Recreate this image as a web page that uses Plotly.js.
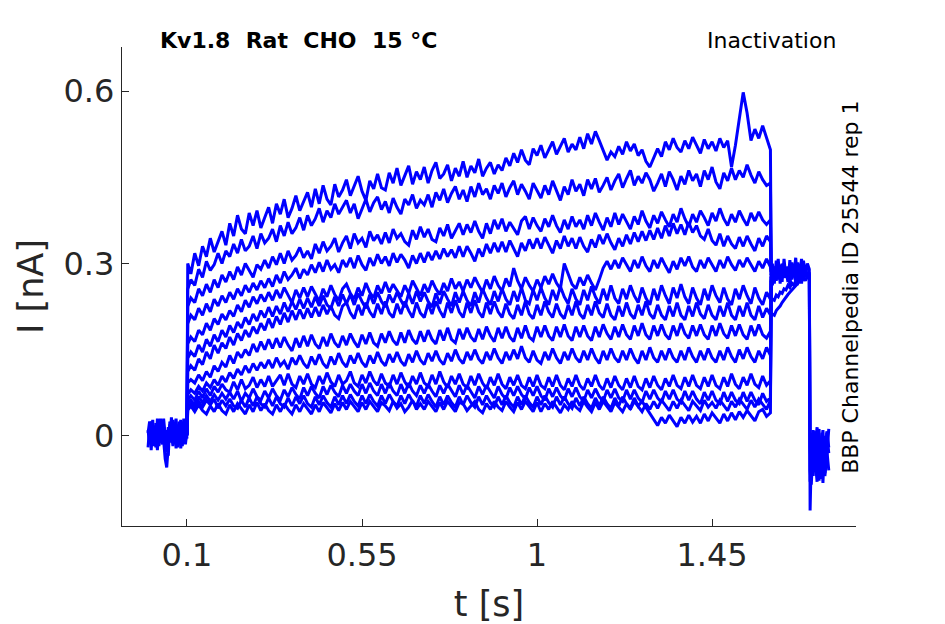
<!DOCTYPE html>
<html>
<head>
<meta charset="utf-8">
<script src="https://cdn.plot.ly/plotly-3.0.1.min.js"></script>
<style>
  body { margin: 0; background: #fff; }
  #chart { width: 945px; height: 624px; }
</style>
</head>
<body>
<div id="chart"></div>
<script>
// current values in thousandths of nA (pA)

// holding period before the step
var tPre = [0, 0.004, 0.008, 0.012, 0.016, 0.02, 0.024, 0.028, 0.032, 0.036, 0.04, 0.044, 0.048,
  0.052, 0.056, 0.06, 0.064, 0.068, 0.072, 0.076, 0.08, 0.084, 0.088, 0.092, 0.096, 0.1];
var preA = [10, -15, 25, -5, 18, -20, 30, 0, -12, 22, -8, -40, -55, -10, 20, -5, 28, -15, 12, -20, 25, 5, -18, 20, -10, 15];
var preB = [-20, 15, -8, 28, -18, 10, -25, 20, 5, -15, 30, -5, -28, 15, -12, 32, -8, 20, -22, 10, -5, 28, -15, 8, 24, -5];
var preC = [5, 25, -25, 12, -10, 22, 8, -18, 30, -8, 15, -22, 10, -35, 25, 5, -18, 12, 30, -10, 18, -22, 10, 30, -15, 8];

// the test pulse
var tMain = [0.1, 0.102,
  0.11, 0.12, 0.13, 0.14, 0.15, 0.16, 0.17, 0.18, 0.19, 0.2,
  0.21, 0.22, 0.23, 0.24, 0.25, 0.26, 0.27, 0.28, 0.29, 0.3,
  0.31, 0.32, 0.33, 0.34, 0.35, 0.36, 0.37, 0.38, 0.39, 0.4,
  0.41, 0.42, 0.43, 0.44, 0.45, 0.46, 0.47, 0.48, 0.49, 0.5,
  0.51, 0.52, 0.53, 0.54, 0.55, 0.56, 0.57, 0.58, 0.59, 0.6,
  0.61, 0.62, 0.63, 0.64, 0.65, 0.66, 0.67, 0.68, 0.69, 0.7,
  0.71, 0.72, 0.73, 0.74, 0.75, 0.76, 0.77, 0.78, 0.79, 0.8,
  0.81, 0.82, 0.83, 0.84, 0.85, 0.86, 0.87, 0.88, 0.89, 0.9,
  0.91, 0.92, 0.93, 0.94, 0.95, 0.96, 0.97, 0.98, 0.99, 1.0,
  1.01, 1.02, 1.03, 1.04, 1.05, 1.06, 1.07, 1.08, 1.09, 1.1,
  1.11, 1.12, 1.13, 1.14, 1.15, 1.16, 1.17, 1.18, 1.19, 1.2,
  1.21, 1.22, 1.23, 1.24, 1.25, 1.26, 1.27, 1.28, 1.29, 1.3,
  1.31, 1.32, 1.33, 1.34, 1.35, 1.36, 1.37, 1.38, 1.39, 1.4,
  1.41, 1.42, 1.43, 1.44, 1.45, 1.46, 1.47, 1.48, 1.49, 1.5,
  1.51, 1.52, 1.53, 1.54, 1.55, 1.56, 1.57, 1.58, 1.59, 1.6,
  1.602];

var sweep1 = [20, 300,
  282, 318, 296, 330, 312, 344, 320, 338, 356, 332,
  370, 348, 384, 360, 352, 388, 366, 392, 362, 380,
  398, 370, 404, 386, 412, 380, 396, 418, 392, 408,
  424, 398, 430, 404, 436, 412, 402, 438, 416, 428,
  446, 418, 436, 452, 426, 410, 444, 430, 456, 432,
  428, 458, 440, 466, 436, 452, 470, 438, 460, 446,
  468, 440, 462, 476, 448, 456, 472, 444, 466, 452,
  478, 450, 470, 458, 482, 452, 466, 476, 456, 472,
  462, 484, 470, 492, 476, 498, 480, 472, 500, 488,
  506, 484, 498, 512, 490, 504, 518, 494, 508, 498,
  520, 500, 526, 508, 530, 514, 496, 480, 494, 486,
  504, 490, 512, 496, 508, 488, 498, 478, 468, 484,
  500, 486, 512, 498, 518, 502, 494, 514, 500, 520,
  506, 492, 516, 500, 512, 496, 518, 502, 514, 468,
  506, 550, 598, 562, 514, 534, 518, 540, 520, 498,
  285];
var sweep2 = [15, 255,
  272, 262, 290, 276, 304, 288, 298, 318, 300, 322,
  312, 334, 318, 342, 322, 330, 348, 326, 352, 336,
  344, 360, 338, 366, 348, 372, 352, 362, 380, 358,
  384, 366, 378, 396, 372, 392, 380, 404, 386, 398,
  410, 388, 404, 378, 396, 412, 390, 406, 416, 394,
  408, 388, 414, 398, 386, 412, 402, 420, 396, 410,
  402, 420, 398, 424, 410, 430, 406, 422, 434, 412,
  428, 408, 434, 416, 440, 420, 430, 412, 436, 422,
  440, 416, 432, 444, 420, 438, 426, 412, 440, 428,
  414, 436, 420, 444, 428, 410, 434, 420, 446, 426,
  438, 418, 446, 430, 448, 424, 436, 450, 428, 444,
  456, 432, 448, 462, 436, 452, 440, 458, 446, 426,
  440, 456, 434, 460, 446, 428, 452, 438, 462, 444,
  456, 434, 462, 446, 468, 442, 430, 458, 444, 466,
  446, 462, 450, 472, 454, 440, 460, 446, 436, 440,
  295];
var sweep3 = [10, 225,
  240, 232, 256, 244, 264, 250, 272, 258, 280, 268,
  286, 272, 294, 280, 300, 288, 276, 298, 290, 306,
  292, 312, 298, 318, 300, 322, 306, 314, 328, 310,
  322, 308, 334, 318, 338, 322, 330, 344, 320, 336,
  348, 326, 352, 336, 344, 328, 356, 340, 350, 334,
  354, 336, 360, 344, 352, 338, 332, 358, 342, 364,
  346, 360, 342, 338, 362, 348, 368, 344, 356, 370,
  350, 368, 354, 374, 356, 344, 370, 352, 376, 360,
  378, 356, 372, 362, 350, 374, 382, 360, 380, 366,
  356, 378, 364, 384, 366, 354, 376, 360, 382, 364,
  376, 360, 384, 366, 388, 372, 358, 380, 364, 388,
  368, 386, 374, 360, 382, 368, 392, 374, 362, 384,
  370, 390, 376, 364, 386, 372, 396, 378, 364, 386,
  372, 392, 380, 366, 388, 374, 396, 378, 366, 386,
  372, 392, 378, 366, 388, 374, 390, 376, 368, 376,
  280];
var sweep4 = [8, 195,
  210, 202, 222, 210, 230, 216, 238, 226, 244, 232,
  250, 238, 256, 244, 262, 250, 266, 254, 270, 258,
  274, 260, 280, 266, 286, 272, 280, 292, 274, 290,
  280, 298, 284, 302, 286, 306, 290, 298, 284, 306,
  294, 310, 292, 314, 298, 288, 310, 296, 316, 300,
  312, 296, 318, 302, 316, 306, 292, 314, 300, 318,
  302, 320, 306, 322, 308, 326, 312, 324, 310, 330,
  312, 330, 318, 304, 326, 312, 334, 318, 336, 320,
  338, 320, 340, 326, 312, 336, 322, 342, 326, 344,
  326, 346, 332, 318, 340, 326, 348, 330, 344, 326,
  346, 330, 320, 342, 328, 350, 334, 352, 336, 324,
  344, 330, 350, 334, 354, 338, 356, 340, 358, 342,
  362, 344, 366, 348, 370, 352, 368, 350, 372, 354,
  366, 348, 342, 360, 340, 332, 352, 330, 348, 334,
  326, 346, 330, 348, 334, 322, 344, 330, 348, 338,
  275];
var sweep5 = [5, 160,
  172, 164, 184, 176, 196, 184, 204, 194, 212, 202,
  218, 208, 228, 216, 236, 224, 242, 230, 246, 234,
  250, 236, 254, 240, 258, 246, 232, 254, 240, 258,
  242, 260, 246, 234, 256, 242, 262, 246, 236, 256,
  264, 248, 238, 258, 244, 266, 250, 240, 262, 248,
  268, 250, 264, 254, 242, 262, 248, 270, 256, 244,
  264, 250, 270, 256, 246, 266, 252, 274, 256, 268,
  252, 272, 258, 276, 262, 250, 272, 256, 278, 262,
  252, 274, 260, 292, 270, 256, 276, 262, 252, 272,
  258, 278, 264, 282, 266, 256, 300, 280, 264, 256,
  276, 262, 280, 266, 254, 272, 292, 304, 290, 306,
  292, 310, 298, 286, 306, 292, 312, 296, 286, 306,
  292, 310, 296, 284, 304, 290, 310, 296, 312, 294,
  286, 306, 292, 310, 298, 286, 306, 292, 312, 298,
  288, 306, 294, 310, 298, 286, 304, 292, 308, 294,
  285];
var sweep6 = [5, 135,
  146, 138, 158, 146, 168, 156, 176, 164, 184, 172,
  192, 180, 198, 188, 206, 194, 212, 200, 218, 206,
  224, 208, 226, 212, 232, 216, 234, 220, 238, 222,
  240, 224, 242, 226, 244, 228, 222, 242, 226, 246,
  230, 246, 228, 248, 234, 222, 246, 230, 250, 234,
  224, 246, 232, 250, 236, 224, 248, 230, 252, 234,
  250, 234, 224, 248, 230, 252, 238, 226, 250, 232,
  252, 236, 226, 250, 232, 256, 240, 228, 252, 234,
  256, 238, 228, 252, 234, 258, 236, 230, 254, 236,
  258, 240, 228, 254, 236, 260, 242, 230, 256, 238,
  228, 254, 236, 260, 242, 230, 256, 236, 262, 240,
  230, 256, 238, 262, 244, 232, 258, 240, 228, 256,
  236, 262, 244, 230, 258, 240, 264, 242, 230, 258,
  240, 228, 256, 236, 262, 244, 232, 258, 238, 228,
  256, 238, 262, 244, 230, 258, 240, 228, 250, 238,
  232];
var sweep7 = [4, 112,
  122, 114, 134, 124, 146, 134, 158, 144, 162, 152,
  172, 158, 178, 166, 184, 172, 190, 178, 196, 184,
  204, 188, 208, 194, 214, 198, 218, 202, 220, 204,
  222, 206, 224, 208, 228, 212, 226, 210, 204, 226,
  232, 214, 204, 228, 210, 232, 216, 206, 230, 212,
  234, 214, 206, 230, 212, 234, 218, 206, 232, 214,
  206, 230, 212, 234, 218, 206, 232, 214, 236, 216,
  206, 232, 214, 236, 216, 206, 232, 212, 234, 216,
  206, 230, 212, 204, 228, 210, 234, 212, 204, 228,
  210, 234, 216, 206, 230, 212, 204, 228, 210, 234,
  212, 204, 228, 210, 234, 214, 206, 230, 210, 202,
  226, 208, 232, 212, 204, 228, 210, 234, 212, 204,
  228, 210, 202, 226, 208, 232, 210, 202, 226, 208,
  232, 212, 204, 228, 210, 202, 226, 208, 232, 210,
  202, 226, 208, 232, 210, 202, 226, 206, 222, 210,
  208];
var sweep8 = [3, 92,
  98, 92, 106, 96, 112, 102, 122, 112, 128, 120,
  140, 126, 146, 136, 150, 140, 160, 146, 164, 150,
  168, 152, 170, 154, 172, 158, 148, 170, 154, 174,
  156, 176, 160, 152, 172, 156, 178, 162, 154, 174,
  158, 178, 164, 154, 176, 160, 180, 162, 156, 178,
  162, 182, 166, 158, 180, 162, 184, 168, 160, 182,
  164, 184, 168, 160, 184, 166, 188, 168, 162, 186,
  168, 188, 172, 164, 186, 168, 190, 174, 164, 188,
  170, 190, 172, 164, 188, 170, 192, 172, 166, 190,
  172, 192, 174, 166, 190, 172, 194, 174, 166, 190,
  172, 192, 174, 166, 190, 172, 194, 178, 168, 190,
  172, 194, 176, 168, 192, 174, 196, 176, 168, 192,
  174, 194, 176, 168, 192, 174, 196, 178, 170, 192,
  174, 194, 176, 168, 192, 174, 196, 178, 170, 192,
  174, 194, 176, 168, 192, 174, 194, 176, 170, 182,
  278];
var sweep9 = [2, 72,
  80, 74, 86, 78, 92, 84, 98, 88, 104, 94,
  110, 100, 116, 106, 122, 110, 126, 114, 128, 118,
  132, 118, 136, 122, 130, 116, 136, 124, 140, 126,
  118, 138, 124, 142, 126, 118, 138, 124, 144, 128,
  120, 140, 126, 144, 128, 120, 140, 126, 146, 130,
  122, 142, 128, 146, 130, 122, 142, 128, 148, 132,
  124, 144, 130, 148, 132, 124, 144, 130, 150, 134,
  126, 146, 132, 150, 134, 126, 146, 132, 152, 136,
  126, 146, 132, 150, 134, 156, 136, 128, 148, 132,
  126, 146, 132, 152, 136, 126, 146, 132, 152, 136,
  128, 148, 132, 152, 136, 126, 148, 132, 152, 136,
  128, 148, 132, 152, 136, 126, 148, 132, 154, 136,
  128, 148, 132, 152, 136, 128, 148, 132, 154, 138,
  128, 148, 132, 152, 136, 128, 148, 132, 154, 138,
  128, 150, 134, 154, 138, 128, 148, 134, 154, 140,
  276];
var sweep10 = [2, 62,
  70, 62, 78, 66, 82, 70, 86, 76, 90, 80,
  76, 94, 80, 98, 82, 88, 102, 84, 98, 86,
  104, 86, 96, 106, 88, 108, 90, 84, 104, 90,
  108, 90, 84, 104, 90, 110, 94, 86, 106, 90,
  96, 112, 92, 86, 106, 92, 112, 96, 88, 108,
  92, 86, 106, 90, 110, 94, 84, 104, 90, 110,
  92, 86, 106, 90, 112, 94, 84, 104, 90, 108,
  90, 84, 104, 88, 108, 92, 82, 102, 88, 108,
  90, 82, 102, 88, 106, 88, 82, 102, 86, 106,
  88, 82, 102, 86, 106, 88, 80, 100, 86, 106,
  88, 80, 100, 86, 106, 88, 80, 100, 84, 104,
  88, 80, 100, 84, 104, 86, 80, 100, 84, 104,
  88, 80, 100, 86, 106, 88, 82, 102, 86, 106,
  88, 82, 102, 86, 106, 88, 82, 102, 86, 108,
  90, 82, 102, 88, 108, 90, 84, 104, 88, 96,
  282];
var sweep11 = [1, 56,
  62, 54, 68, 58, 70, 60, 72, 62, 74, 64,
  76, 64, 78, 60, 74, 66, 82, 68, 62, 78,
  66, 82, 70, 62, 80, 68, 84, 72, 64, 84,
  70, 86, 74, 66, 86, 72, 88, 76, 68, 88,
  74, 90, 78, 70, 90, 74, 92, 78, 70, 90,
  74, 92, 78, 70, 90, 74, 92, 78, 70, 88,
  74, 90, 78, 68, 88, 74, 90, 78, 68, 88,
  72, 88, 76, 66, 86, 72, 88, 76, 66, 86,
  72, 64, 84, 70, 86, 72, 64, 84, 70, 86,
  70, 62, 82, 68, 84, 70, 62, 82, 68, 84,
  68, 60, 80, 66, 82, 68, 60, 80, 66, 82,
  66, 60, 80, 64, 80, 66, 58, 78, 64, 80,
  66, 58, 78, 64, 80, 64, 58, 78, 62, 78,
  64, 56, 76, 62, 78, 62, 56, 76, 60, 76,
  62, 56, 76, 60, 76, 62, 54, 74, 60, 66,
  276];
var sweep12 = [1, 50,
  56, 48, 60, 50, 62, 54, 64, 48, 62, 52,
  64, 52, 48, 62, 50, 66, 52, 68, 56, 50,
  66, 52, 68, 56, 50, 66, 52, 68, 56, 70,
  56, 50, 68, 54, 70, 58, 50, 68, 54, 70,
  56, 72, 60, 52, 70, 56, 72, 60, 52, 70,
  56, 72, 60, 52, 70, 56, 72, 60, 52, 70,
  56, 72, 60, 50, 68, 54, 70, 58, 50, 68,
  54, 70, 58, 50, 68, 54, 70, 58, 50, 68,
  54, 70, 58, 50, 68, 54, 70, 58, 50, 68,
  54, 70, 58, 50, 68, 54, 68, 56, 48, 66,
  52, 68, 56, 48, 66, 52, 68, 56, 48, 66,
  52, 68, 56, 48, 66, 52, 60, 50, 38, 28,
  18, 32, 22, 36, 26, 16, 32, 22, 36, 24,
  34, 22, 38, 26, 40, 30, 22, 38, 26, 40,
  28, 42, 32, 44, 34, 26, 42, 46, 34, 40,
  272];
var sweep13 = [0, 45,
  52, 42, 54, 44, 38, 52, 42, 56, 44, 38,
  54, 42, 56, 46, 38, 54, 42, 58, 44, 56,
  44, 38, 54, 42, 56, 46, 38, 54, 42, 56,
  46, 38, 54, 42, 58, 48, 40, 56, 44, 58,
  46, 60, 50, 42, 58, 46, 60, 50, 42, 58,
  52, 44, 60, 48, 56, 42, 50, 62, 46, 56,
  46, 60, 50, 42, 58, 46, 60, 50, 42, 58,
  56, 44, 52, 60, 46, 40, 56, 46, 60, 50,
  44, 60, 50, 42, 58, 46, 60, 50, 42, 58,
  42, 56, 46, 60, 50, 40, 54, 46, 60, 50,
  44, 60, 50, 42, 58, 46, 60, 50, 42, 58,
  50, 42, 56, 46, 60, 50, 42, 56, 46, 60,
  48, 62, 52, 44, 60, 48, 62, 52, 44, 60,
  52, 44, 62, 50, 58, 48, 62, 52, 44, 60,
  50, 64, 54, 46, 62, 50, 64, 54, 46, 62,
  270];

// tail: back to the prepulse level, then the final step
var tTail = [1.602, 1.605, 1.61, 1.615, 1.62, 1.625, 1.63, 1.635, 1.64, 1.645, 1.65,
  1.655, 1.66, 1.665, 1.67, 1.675, 1.68, 1.685, 1.69, 1.695, 1.7,
  1.702, 1.705, 1.71, 1.715, 1.72, 1.725, 1.73, 1.735, 1.74, 1.745, 1.75];
var tailA = [280, 300, 265, 305, 272, 298, 268, 308, 275, 295, 262, 302, 278, 310, 270, 296, 265, 305, 280, 300, 290,
  -130, -40, 10, -60, -20, 12, -75, -10, -50, 5, -30];
var tailB = [270, 262, 295, 270, 308, 265, 300, 275, 290, 268, 306, 272, 298, 266, 302, 280, 308, 270, 296, 275, 285,
  -80, 5, -70, -15, 15, -45, -5, -82, 0, -25, -60];
var tailC = [232, 238, 236, 245, 242, 250, 248, 256, 254, 262, 258, 266, 262, 270, 266, 274, 268, 276, 270, 278, 275,
  -60, -85, -20, 8, -50, -78, -15, 10, -70, -35, 12];
var tailD = [208, 212, 210, 218, 222, 226, 232, 236, 240, 246, 250, 254, 258, 262, 266, 270, 272, 276, 280, 278, 282,
  -20, -60, 0, -35, -80, 5, -40, -10, -65, 8, -20];

var sweeps = [sweep1, sweep2, sweep3, sweep4, sweep5, sweep6, sweep7,
  sweep8, sweep9, sweep10, sweep11, sweep12, sweep13];

function toNa(vals) {
  return vals.map(function (v) { return v / 1000; });
}

var blue = '#0000ff';
var data = [];
function addLine(t, vals) {
  data.push({
    x: t,
    y: toNa(vals),
    type: 'scatter',
    mode: 'lines',
    line: { color: blue, width: 3 },
    hoverinfo: 'skip',
    showlegend: false
  });
}

[preA, preB, preC].forEach(function (p) { addLine(tPre, p); });
sweeps.forEach(function (s) { addLine(tMain, s); });
[tailA, tailB, tailC, tailD].forEach(function (p) { addLine(tTail, p); });

var axisCol = '#262626';
var layout = {
  width: 945,
  height: 624,
  margin: { l: 122, r: 89, t: 47, b: 98 },
  paper_bgcolor: '#fff',
  plot_bgcolor: '#fff',
  font: { family: 'DejaVu Sans', color: axisCol },
  xaxis: {
    range: [-0.067, 1.82],
    tickvals: [0.1, 0.55, 1, 1.45],
    ticktext: ['0.1', '0.55', '1', '1.45'],
    ticks: 'inside',
    ticklen: 7,
    tickcolor: axisCol,
    tickfont: { size: 32, color: axisCol },
    showgrid: false,
    zeroline: false,
    showline: true,
    linecolor: axisCol,
    linewidth: 1.3,
    title: { text: 't [s]', font: { size: 35, color: axisCol }, standoff: 18 }
  },
  yaxis: {
    range: [-0.157, 0.677],
    tickvals: [0, 0.3, 0.6],
    ticktext: ['0', '0.3', '0.6'],
    ticks: 'inside',
    ticklen: 7,
    tickcolor: axisCol,
    tickfont: { size: 32, color: axisCol },
    showgrid: false,
    zeroline: false,
    showline: true,
    linecolor: axisCol,
    linewidth: 1.3,
    title: { text: 'I [nA]', font: { size: 35, color: axisCol }, standoff: 9 }
  },
  annotations: [
    {
      text: '<b>Kv1.8\u00a0\u00a0Rat\u00a0\u00a0CHO\u00a0\u00a015 \u00b0C</b>',
      xref: 'paper', yref: 'paper', x: 0.049, y: 1.0146,
      xanchor: 'left', yanchor: 'middle', showarrow: false,
      font: { size: 22, color: '#000' }
    },
    {
      text: 'Inactivation',
      xref: 'paper', yref: 'paper', x: 0.9755, y: 1.0146,
      xanchor: 'right', yanchor: 'middle', showarrow: false,
      font: { size: 22, color: '#000' }
    },
    {
      text: 'BBP Channelpedia ID 25544 rep 1',
      xref: 'paper', yref: 'paper', x: 0.993, y: 0.499,
      xanchor: 'center', yanchor: 'middle', textangle: -90, showarrow: false,
      font: { size: 22, color: '#000' }
    }
  ]
};

Plotly.newPlot('chart', data, layout, { staticPlot: true });
</script>
</body>
</html>
